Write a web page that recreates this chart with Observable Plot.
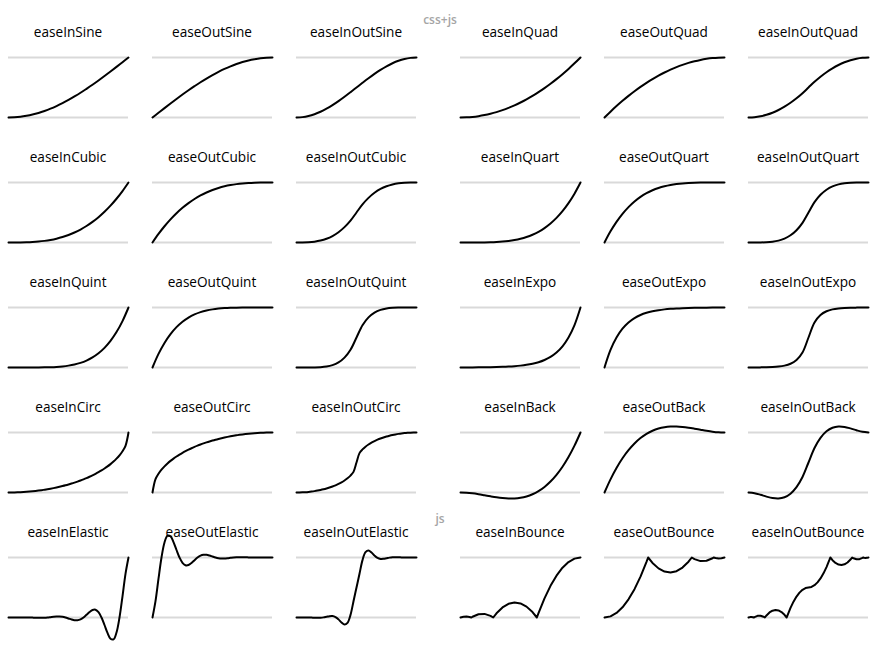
<!DOCTYPE html>
<html><head><meta charset="utf-8">
<script src="https://cdn.jsdelivr.net/npm/d3@7"></script>
<script src="https://cdn.jsdelivr.net/npm/@observablehq/plot@0.6"></script>
<style>
body{margin:0;background:#fff;font-family:"Open Sans",sans-serif;}
#wrap{position:relative;width:880px;height:650px;overflow:hidden;background:#fff;}
.cell{position:absolute;width:120px;height:125px;}
.title{position:absolute;left:-12px;width:144px;top:0;height:26px;line-height:26px;text-align:center;font-size:13.6px;color:#000;white-space:nowrap;}
.cell svg{position:absolute;left:0;top:13px;overflow:visible;background:transparent;}
.group{position:absolute;font-size:12px;line-height:14px;color:#a5a5a5;font-weight:600;transform:translateX(-50%);}
</style>
</head><body>
<div id="wrap"></div>
<script>
// sample positions (time, 0..1)
const t21 = [0,.05,.1,.15,.2,.25,.3,.35,.4,.45,.5,.55,.6,.65,.7,.75,.8,.85,.9,.95,1];
const t41 = [0,.025,.05,.075,.1,.125,.15,.175,.2,.225,.25,.275,.3,.325,.35,.375,.4,.425,.45,.475,.5,.525,.55,.575,.6,.625,.65,.675,.7,.725,.75,.775,.8,.825,.85,.875,.9,.925,.95,.975,1];
const tOutBounce = [0,.05,.1,.15,.2,.25,.3,.35,.3636,.4,.45,.5,.55,.6,.65,.7,.7273,.75,.8,.85,.9,.9091,.925,.95,.975,1];
const tInBounce = [0,.025,.05,.075,.0909,.1,.15,.2,.25,.2727,.3,.35,.4,.45,.5,.55,.6,.6364,.65,.7,.75,.8,.85,.9,.95,1];
const tInOutBounce = [0,.0125,.025,.0375,.0455,.05,.075,.1,.125,.1364,.15,.175,.2,.225,.25,.275,.3,.3182,.325,.35,.375,.4,.425,.45,.475,.5,.525,.55,.575,.6,.625,.65,.675,.6818,.7,.725,.75,.775,.8,.825,.85,.8636,.875,.9,.925,.95,.9545,.9625,.975,.9875,1];

// group labels
const groupLabels = ["css+js", "js"];

// curve values (progress)
const easeInSine = [0,.003,.012,.028,.049,.076,.109,.147,.191,.240,.293,.351,.412,.478,.546,.617,.691,.767,.844,.922,1];
const easeOutSine = [0,.078,.156,.233,.309,.383,.454,.522,.588,.649,.707,.760,.809,.853,.891,.924,.951,.972,.988,.997,1];
const easeInOutSine = [0,.0062,.0245,.0545,.0955,.1464,.2061,.273,.3455,.4218,.5,.5782,.6545,.727,.7939,.8536,.9045,.9455,.9755,.9938,1];
const easeInQuad = [0,.0025,.01,.0225,.04,.0625,.09,.1225,.16,.2025,.25,.3025,.36,.4225,.49,.5625,.64,.7225,.81,.9025,1];
const easeOutQuad = [0,.0975,.19,.2775,.36,.4375,.51,.5775,.64,.6975,.75,.7975,.84,.8775,.91,.9375,.96,.9775,.99,.9975,1];
const easeInOutQuad = [0,.005,.02,.045,.08,.125,.18,.245,.32,.405,.5,.595,.68,.755,.82,.875,.92,.955,.98,.995,1];
const easeInCubic = [0,.0001,.001,.0034,.008,.0156,.027,.0429,.064,.0911,.125,.1664,.216,.2746,.343,.4219,.512,.6141,.729,.8574,1];
const easeOutCubic = [0,.1426,.271,.3859,.488,.5781,.657,.7254,.784,.8336,.875,.9089,.936,.9571,.973,.9844,.992,.9966,.999,.9999,1];
const easeInOutCubic = [0,.0005,.004,.0135,.032,.0625,.108,.1715,.256,.3645,.5,.6355,.744,.8285,.892,.9375,.968,.9865,.996,.9995,1];
const easeInQuart = [0,0,.0001,.0005,.0016,.0039,.0081,.015,.0256,.041,.0625,.0915,.1296,.1785,.2401,.3164,.4096,.522,.6561,.8145,1];
const easeOutQuart = [0,.1855,.3439,.478,.5904,.6836,.7599,.8215,.8704,.9085,.9375,.959,.9744,.985,.9919,.9961,.9984,.9995,.9999,1,1];
const easeInOutQuart = [0,.0001,.0008,.0041,.0128,.0313,.0648,.1201,.2048,.3281,.5,.6719,.7952,.8799,.9352,.9688,.9872,.9959,.9992,.9999,1];
const easeInQuint = [0,0,0,.0001,.0003,.001,.0024,.0053,.0102,.0185,.0313,.0503,.0778,.116,.1681,.2373,.3277,.4437,.5905,.7738,1];
const easeOutQuint = [0,.2262,.4095,.5563,.6723,.7627,.8319,.884,.9222,.9497,.9688,.9815,.9898,.9947,.9976,.999,.9997,.9999,1,1,1];
const easeInOutQuint = [0,0,.0002,.0012,.0051,.0156,.0389,.084,.1638,.2952,.5,.7048,.8362,.916,.9611,.9844,.9949,.9988,.9998,1,1];
const easeInExpo = [0,.0014,.002,.0028,.0039,.0055,.0078,.011,.0156,.0221,.0313,.0442,.0625,.0884,.125,.1768,.25,.3536,.5,.7071,1];
const easeOutExpo = [0,.2929,.5,.6464,.75,.8232,.875,.9116,.9375,.9558,.9688,.9779,.9844,.989,.9922,.9945,.9961,.9972,.998,.9986,1];
const easeInOutExpo = [0,.001,.002,.0039,.0078,.0156,.0313,.0625,.125,.25,.5,.75,.875,.9375,.9688,.9844,.9922,.9961,.998,.999,1];
const easeInCirc = [0,.0003,.0013,.0028,.005,.0078,.0113,.0154,.0202,.0256,.0318,.0386,.0461,.0543,.0633,.073,.0835,.0948,.107,.12,.134,.1489,.1648,.1818,.2,.2194,.2401,.2622,.2859,.3113,.3386,.368,.4,.4349,.4732,.5159,.5641,.62,.6878,.7778,1];
const easeOutCirc = [0,.2222,.3122,.38,.4359,.4841,.5268,.5651,.6,.632,.6614,.6887,.7141,.7378,.7599,.7806,.8,.8182,.8352,.8511,.866,.88,.893,.9052,.9165,.927,.9367,.9457,.9539,.9614,.9682,.9744,.9798,.9846,.9887,.9922,.995,.9972,.9988,.9997,1];
const easeInOutCirc = [0,.0006,.0025,.0057,.0101,.0159,.0231,.0317,.0418,.0535,.067,.0824,.1,.12,.143,.1693,.2,.2366,.2821,.3439,.5,.6561,.7179,.7634,.8,.8307,.857,.88,.9,.9176,.933,.9465,.9582,.9683,.9769,.9841,.9899,.9943,.9975,.9994,1];
const easeInBack = [0,-.0039,-.0143,-.0292,-.0465,-.0641,-.0802,-.0926,-.0994,-.0984,-.0877,-.0653,-.029,.023,.0929,.1826,.2942,.4297,.5912,.7806,1];
const easeOutBack = [0,.2194,.4088,.5703,.7058,.8174,.9071,.977,1.029,1.0653,1.0877,1.0984,1.0994,1.0926,1.0802,1.0641,1.0465,1.0292,1.0143,1.0039,1];
const easeInOutBack = [0,-.0112,-.0375,-.0682,-.0926,-.0997,-.0788,-.0192,.0899,.2594,.5,.7406,.9101,1.0192,1.0788,1.0997,1.0926,1.0682,1.0375,1.0112,1];
const easeInElastic = [0,0,.0007,.0014,.002,.002,.0014,0,-.002,-.004,-.0055,-.0057,-.0039,0,.0055,.0114,.0156,.0161,.011,0,-.0156,-.0322,-.0442,-.0455,-.0313,0,.0442,.091,.125,.1288,.0884,0,-.125,-.2575,-.3536,-.3641,-.25,0,.3536,.7282,1];
const easeOutElastic = [0,.2718,.6464,1,1.25,1.3641,1.3536,1.2575,1.125,1,.9116,.8712,.875,.909,.9558,1,1.0313,1.0455,1.0442,1.0322,1.0156,1,.989,.9839,.9844,.9886,.9945,1,1.0039,1.0057,1.0055,1.004,1.002,1,.9986,.998,.998,.9986,.9993,1,1];
const easeInOutElastic = [0,.0005,.001,.0011,.0003,-.0014,-.0037,-.0052,-.0039,.0019,.012,.0221,.0239,.0077,-.0313,-.0831,-.1175,-.0884,.0434,.2708,.5,.7292,.9566,1.0884,1.1175,1.0831,1.0313,.9923,.9761,.9779,.988,.9981,1.0039,1.0052,1.0037,1.0014,.9997,.9989,.999,.9995,1];
const easeInBounce = [0,.0125,.0154,.009,0,.0119,.0548,.06,.0273,0,.0694,.1673,.2275,.2498,.2344,.1811,.09,0,.0736,.3194,.5273,.6975,.8298,.9244,.9811,1];
const easeOutBounce = [0,.0189,.0756,.1702,.3025,.4727,.6806,.9264,1,.91,.8189,.7656,.7502,.7725,.8327,.9306,1,.9727,.94,.9452,.9881,1,.991,.9846,.9875,1];
const easeInOutBounce = [0,.0063,.0077,.0045,0,.006,.0274,.03,.0137,0,.0347,.0837,.1138,.1249,.1172,.0906,.045,0,.0368,.1597,.2637,.3488,.4149,.4622,.4906,.5,.5095,.5378,.5851,.6513,.7364,.8403,.9632,1,.955,.9095,.8828,.8751,.8863,.9164,.9653,1,.9864,.97,.9726,.9941,1,.9955,.9923,.9938,1];

const series = [
  {name:"easeInSine", t:t21, y:easeInSine},
  {name:"easeOutSine", t:t21, y:easeOutSine},
  {name:"easeInOutSine", t:t21, y:easeInOutSine},
  {name:"easeInQuad", t:t21, y:easeInQuad},
  {name:"easeOutQuad", t:t21, y:easeOutQuad},
  {name:"easeInOutQuad", t:t21, y:easeInOutQuad},
  {name:"easeInCubic", t:t21, y:easeInCubic},
  {name:"easeOutCubic", t:t21, y:easeOutCubic},
  {name:"easeInOutCubic", t:t21, y:easeInOutCubic},
  {name:"easeInQuart", t:t21, y:easeInQuart},
  {name:"easeOutQuart", t:t21, y:easeOutQuart},
  {name:"easeInOutQuart", t:t21, y:easeInOutQuart},
  {name:"easeInQuint", t:t21, y:easeInQuint},
  {name:"easeOutQuint", t:t21, y:easeOutQuint},
  {name:"easeInOutQuint", t:t21, y:easeInOutQuint},
  {name:"easeInExpo", t:t21, y:easeInExpo},
  {name:"easeOutExpo", t:t21, y:easeOutExpo},
  {name:"easeInOutExpo", t:t21, y:easeInOutExpo},
  {name:"easeInCirc", t:t41, y:easeInCirc},
  {name:"easeOutCirc", t:t41, y:easeOutCirc},
  {name:"easeInOutCirc", t:t41, y:easeInOutCirc},
  {name:"easeInBack", t:t21, y:easeInBack},
  {name:"easeOutBack", t:t21, y:easeOutBack},
  {name:"easeInOutBack", t:t21, y:easeInOutBack},
  {name:"easeInElastic", t:t41, y:easeInElastic},
  {name:"easeOutElastic", t:t41, y:easeOutElastic},
  {name:"easeInOutElastic", t:t41, y:easeInOutElastic},
  {name:"easeInBounce", t:tInBounce, y:easeInBounce, curve:"linear"},
  {name:"easeOutBounce", t:tOutBounce, y:easeOutBounce, curve:"linear"},
  {name:"easeInOutBounce", t:tInOutBounce, y:easeInOutBounce, curve:"linear"}
];

// layout
const colLeft = [8, 152, 296, 460, 604, 748];
const rowTop0 = 19, rowStep = 125;
const wrap = document.getElementById("wrap");

series.forEach((s, i) => {
  const r = Math.floor(i / 6), c = i % 6;
  const cell = document.createElement("div");
  cell.className = "cell";
  cell.style.left = colLeft[c] + "px";
  cell.style.top = (rowTop0 + r * rowStep) + "px";
  const title = document.createElement("div");
  title.className = "title";
  title.textContent = s.name;
  cell.appendChild(title);
  const data = s.t.map((t, j) => ({t, v: s.y[j]}));
  const svg = Plot.plot({
    width: 120, height: 110,
    marginTop: 25, marginBottom: 25, marginLeft: 0, marginRight: 0,
    x: {domain: [0, 1], axis: null},
    y: {domain: [0, 1], axis: null},
    style: {background: "transparent", overflow: "visible"},
    marks: [
      Plot.ruleY([0, 1], {stroke: "#d9d9d9", strokeWidth: 2}),
      Plot.line(data, {x: "t", y: "v", stroke: "#000", strokeWidth: 2, curve: s.curve || "catmull-rom"})
    ]
  });
  cell.appendChild(svg);
  wrap.appendChild(cell);
});

const g1 = document.createElement("div");
g1.className = "group"; g1.textContent = groupLabels[0];
g1.style.left = "440px"; g1.style.top = "13px";
wrap.appendChild(g1);
const g2 = document.createElement("div");
g2.className = "group"; g2.textContent = groupLabels[1];
g2.style.left = "440px"; g2.style.top = "512px";
wrap.appendChild(g2);
</script>
</body></html>
